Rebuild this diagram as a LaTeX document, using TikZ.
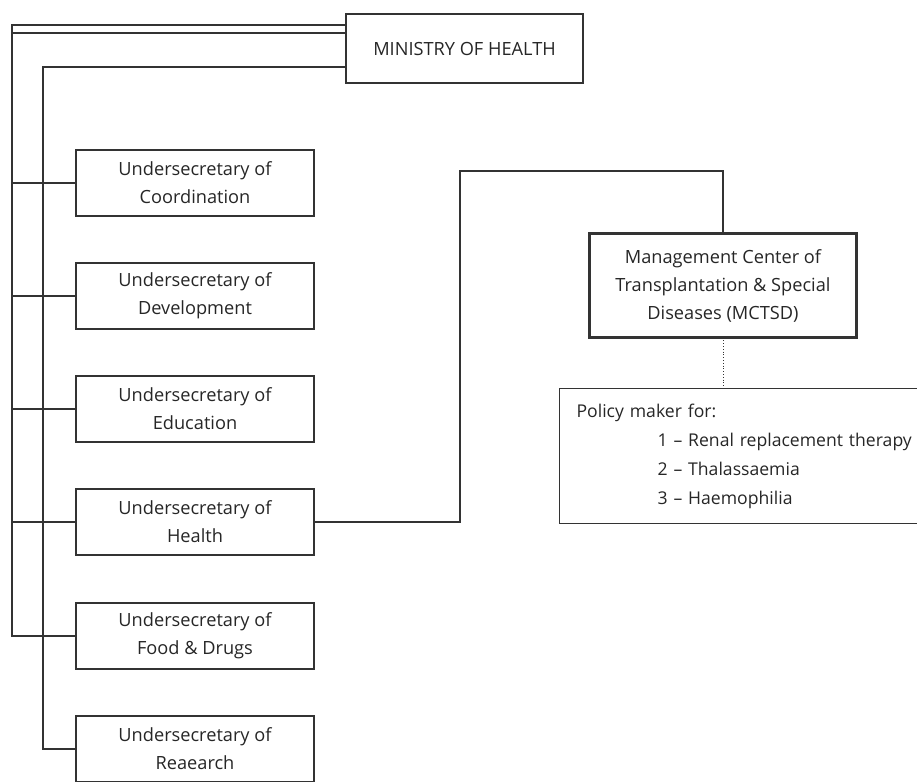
\documentclass[tikz,border=0pt]{standalone}
\usepackage{fontspec}
\setmainfont{Open Sans}
\usetikzlibrary{calc}

\begin{document}
\begin{tikzpicture}[x=1pt, y=-1pt, line width=1.2pt, color=black!80,
    unitbox/.style={draw, rectangle, align=center,
      font=\fontsize{18.2}{28}\selectfont, text=black!85},
    underbox/.style={unitbox, minimum width=238pt, minimum height=66pt, inner sep=0pt},
    centerbox/.style={unitbox, minimum width=266pt, minimum height=103pt, inner sep=0pt}]

  \useasboundingbox (0, 0) rectangle (917, 781);

  \node[unitbox, minimum width=237pt, minimum height=69pt, inner sep=0pt] (ministry) at (464.5, 48.5) {MINISTRY OF HEALTH};

  \node[underbox] (coord) at (195, 183) {Undersecretary of\\Coordination};
  \node[underbox] (devel) at (195, 296) {Undersecretary of\\Development};
  \node[underbox] (educ) at (195, 409) {Undersecretary of\\Education};
  \node[underbox] (health) at (195, 522) {Undersecretary of\\Health};
  \node[underbox] (food) at (195, 636) {Undersecretary of\\Food \& Drugs};
  \node[underbox] (research) at (195, 749) {Undersecretary of\\Reaearch};

  \node[centerbox] (mctsd) at (723, 285.5)
    {Management Center of\\Transplantation \& Special\\Diseases (MCTSD)};
  \draw[line width=2.8pt] (mctsd.south west) rectangle (mctsd.north east);

  \node[unitbox, anchor=north west, align=left, text width=345pt, minimum height=135pt,
    inner xsep=17pt, inner ysep=0pt, font=\fontsize{17.6}{29}\selectfont] (policy) at (559, 388)
    {Policy maker for:\\
     \hspace*{81pt}1 -- Renal replacement therapy\\
     \hspace*{81pt}2 -- Thalassaemia\\
     \hspace*{81pt}3 -- Haemophilia};

  \coordinate (top1) at (346, 25);
  \coordinate (top2) at (346, 33);
  \coordinate (top3) at (346, 67);
  \coordinate (outer) at (12, 0);
  \coordinate (inner) at (43, 0);
  \coordinate (bend) at (460, 171);

  \draw[] (top1) -| (food.west -| outer) -- (food.west);
  \draw[] (top2) -- (top2 -| outer);
  \draw[] (top3) -| (research.west -| inner) -- (research.west);

  \draw[] (coord.west -| outer) -- (coord.west);
  \draw[] (devel.west -| outer) -- (devel.west);
  \draw[] (educ.west -| outer) -- (educ.west);
  \draw[] (health.west -| outer) -- (health.west);

  \draw[] (health.east) -| (bend) -| (mctsd.north);
  \draw[dotted, line width=0.8pt] (mctsd.south) -- (policy.north -| mctsd.south);
\end{tikzpicture}
\end{document}
